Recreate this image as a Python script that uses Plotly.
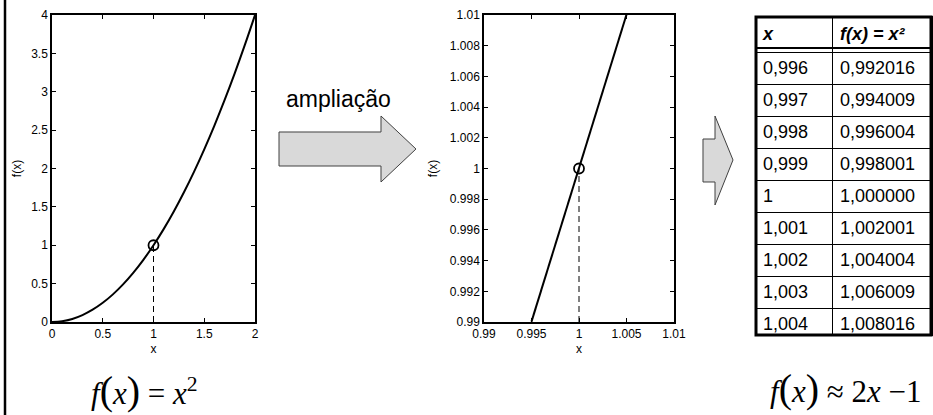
import plotly.graph_objects as go

W, H = 933, 415

# ---------------- data ----------------
x_full = [0.0, 0.1, 0.2, 0.3, 0.4, 0.5, 0.6, 0.7, 0.8, 0.9, 1.0,
          1.1, 1.2, 1.3, 1.4, 1.5, 1.6, 1.7, 1.8, 1.9, 2.0]
y_full = [0.0, 0.01, 0.04, 0.09, 0.16, 0.25, 0.36, 0.49, 0.64, 0.81, 1.0,
          1.21, 1.44, 1.69, 1.96, 2.25, 2.56, 2.89, 3.24, 3.61, 4.0]

x_zoom = [0.995, 0.996, 0.997, 0.998, 0.999, 1.0, 1.001, 1.002, 1.003, 1.004, 1.005]
y_zoom = [0.990025, 0.992016, 0.994009, 0.996004, 0.998001, 1.0,
          1.002001, 1.004004, 1.006009, 1.008016, 1.010025]

point_x = [1.0]
point_y = [1.0]

left_xticks = [0, 0.5, 1, 1.5, 2]
left_xtext = ["0", "0.5", "1", "1.5", "2"]
left_yticks = [0, 0.5, 1, 1.5, 2, 2.5, 3, 3.5, 4]
left_ytext = ["0", "0.5", "1", "1.5", "2", "2.5", "3", "3.5", "4"]
mid_xticks = [0.99, 0.995, 1.0, 1.005, 1.01]
mid_xtext = ["0.99", "0.995", "1", "1.005", "1.01"]
mid_yticks = [0.99, 0.992, 0.994, 0.996, 0.998, 1.0, 1.002, 1.004, 1.006, 1.008, 1.01]
mid_ytext = ["0.99", "0.992", "0.994", "0.996", "0.998", "1",
             "1.002", "1.004", "1.006", "1.008", "1.01"]

table_header = ["<b><i>x</i></b>", "<b><i>f(x) = x²</i></b>"]
table_x = ["0,996", "0,997", "0,998", "0,999", "1", "1,001", "1,002", "1,003", "1,004"]
table_fx = ["0,992016", "0,994009", "0,996004", "0,998001", "1,000000",
            "1,002001", "1,004004", "1,006009", "1,008016"]

# ---------------- helpers ----------------
def PX(px):
    return px / W

def PY(py):
    return 1 - py / H

def path(points):
    return "M " + " L ".join(f"{PX(a):.5f},{PY(b):.5f}" for a, b in points) + " Z"

fig = go.Figure()

fig.add_trace(go.Scatter(x=x_full, y=y_full, mode="lines", line=dict(color="black", width=2, shape="spline"),
                         xaxis="x", yaxis="y", showlegend=False, hoverinfo="skip"))
fig.add_trace(go.Scatter(x=[point_x[0], point_x[0]], y=[0, point_y[0]], mode="lines",
                         line=dict(color="black", width=1, dash="6px,4px"),
                         xaxis="x", yaxis="y", showlegend=False, hoverinfo="skip"))
fig.add_trace(go.Scatter(x=point_x, y=point_y, mode="markers",
                         marker=dict(symbol="circle-open", size=10, color="black", line=dict(width=1.8)),
                         xaxis="x", yaxis="y", showlegend=False, hoverinfo="skip"))

fig.add_trace(go.Scatter(x=x_zoom, y=y_zoom, mode="lines", line=dict(color="black", width=2),
                         xaxis="x2", yaxis="y2", showlegend=False, hoverinfo="skip"))
fig.add_trace(go.Scatter(x=[point_x[0], point_x[0]], y=[0.99, point_y[0]], mode="lines",
                         line=dict(color="black", width=1, dash="6px,4px"),
                         xaxis="x2", yaxis="y2", showlegend=False, hoverinfo="skip"))
fig.add_trace(go.Scatter(x=point_x, y=point_y, mode="markers",
                         marker=dict(symbol="circle-open", size=10, color="black", line=dict(width=1.8)),
                         xaxis="x2", yaxis="y2", showlegend=False, hoverinfo="skip"))

fig.add_trace(go.Table(
    domain=dict(x=[PX(755), PX(932)], y=[PY(336), PY(16)]),
    columnwidth=[77, 100],
    header=dict(values=table_header, align="left", height=32,
                font=dict(family="Liberation Sans, Arial", size=18, color="black"),
                fill=dict(color="white"), line=dict(color="black", width=1)),
    cells=dict(values=[table_x, table_fx], align="left", height=32,
               font=dict(family="Liberation Sans, Arial", size=18, color="black"),
               fill=dict(color="white"), line=dict(color="black", width=1)),
))

tickfont = dict(family="Liberation Sans, Arial", size=12, color="black")
axis_common = dict(showline=True, linecolor="black", linewidth=1.5, mirror="ticks",
                   ticks="inside", ticklen=4, tickcolor="black", tickwidth=1,
                   showgrid=False, zeroline=False, tickfont=tickfont, fixedrange=True,
                   automargin=False)

fig.update_layout(
    width=W, height=H,
    autosize=False,
    margin=dict(l=0, r=0, t=0, b=0, pad=0, autoexpand=False),
    paper_bgcolor="white", plot_bgcolor="white",
    font=dict(family="Liberation Sans, Arial", color="black"),
    xaxis=dict(domain=[PX(52), PX(255)], range=[0, 2], tickvals=left_xticks, ticktext=left_xtext,
               anchor="y", title=dict(text="x", font=dict(size=12), standoff=4), **axis_common),
    yaxis=dict(domain=[PY(322), PY(15)], range=[0, 4], tickvals=left_yticks, ticktext=left_ytext,
               anchor="x", title=dict(text="f(x)", font=dict(size=12), standoff=7), **axis_common),
    xaxis2=dict(domain=[PX(484), PX(674)], range=[0.99, 1.01], tickvals=mid_xticks, ticktext=mid_xtext,
                anchor="y2", title=dict(text="x", font=dict(size=12), standoff=4), **axis_common),
    yaxis2=dict(domain=[PY(322), PY(15)], range=[0.99, 1.01], tickvals=mid_yticks, ticktext=mid_ytext,
                anchor="x2", title=dict(text="f(x)", font=dict(size=12), standoff=10), **axis_common),
)

shapes = []
shapes.append(dict(type="line", xref="paper", yref="paper", x0=PX(5), x1=PX(5), y0=0, y1=1,
                   line=dict(color="black", width=2.5)))
big_arrow = [(279, 132), (381, 132), (381, 116), (416, 149), (381, 182), (381, 166), (279, 166)]
shapes.append(dict(type="path", xref="paper", yref="paper", path=path(big_arrow),
                   fillcolor="#d9d9d9", line=dict(color="#404040", width=1)))
small_arrow = [(703, 139), (715, 139), (715, 116), (733, 160), (715, 205), (715, 182), (703, 182)]
shapes.append(dict(type="path", xref="paper", yref="paper", path=path(small_arrow),
                   fillcolor="#d9d9d9", line=dict(color="#404040", width=1)))
shapes.append(dict(type="rect", xref="paper", yref="paper", x0=PX(756), x1=PX(931), y0=PY(335), y1=PY(17),
                   line=dict(color="black", width=3), fillcolor="rgba(0,0,0,0)"))
shapes.append(dict(type="line", xref="paper", yref="paper", x0=PX(756), x1=PX(931), y0=PY(48), y1=PY(48),
                   line=dict(color="black", width=2)))
fig.update_layout(shapes=shapes)

serif = "Liberation Serif, Times New Roman, serif"
fig.add_annotation(xref="paper", yref="paper", x=PX(338), y=PY(99), xanchor="center", yanchor="middle",
                   showarrow=False, text="ampliação",
                   font=dict(family="Liberation Sans, Arial", size=23, color="black"))
fig.add_annotation(xref="paper", yref="paper", x=PX(144), y=PY(390), xanchor="center", yanchor="middle",
                   showarrow=False,
                   text="<i>f</i><span style='font-size:40px'>(</span><i>x</i><span style='font-size:40px'>)</span> = <i>x</i><sup>2</sup>",
                   font=dict(family=serif, size=31, color="black"))
fig.add_annotation(xref="paper", yref="paper", x=PX(846), y=PY(388), xanchor="center", yanchor="middle",
                   showarrow=False,
                   text="<i>f</i><span style='font-size:40px'>(</span><i>x</i><span style='font-size:40px'>)</span> ≈ 2<i>x</i> −1",
                   font=dict(family=serif, size=31, color="black"))

fig.write_html("out.html", config={"displayModeBar": False},
               post_script="document.body.style.margin='0px';")
